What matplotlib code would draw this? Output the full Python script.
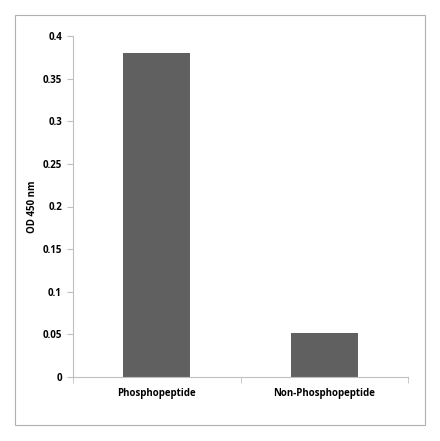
import matplotlib
matplotlib.use("Agg")
import matplotlib.pyplot as plt
from matplotlib.patches import Rectangle

categories = ["Phosphopeptide", "Non-Phosphopeptide"]
values = [0.38, 0.052]
yticks = [0, 0.05, 0.1, 0.15, 0.2, 0.25, 0.3, 0.35, 0.4]
ytick_labels = ["0", "0.05", "0.1", "0.15", "0.2", "0.25", "0.3", "0.35", "0.4"]

plt.rcParams['font.family'] = ['Open Sans', 'DejaVu Sans']

fig = plt.figure(figsize=(4.40, 4.41), dpi=100)
fig.patch.set_facecolor('white')
# outer frame
fig.add_artist(Rectangle((15/440, 1-425/441), 410/440, 410/441, transform=fig.transFigure,
                         fill=False, edgecolor='#b0b0b0', linewidth=0.8))

ax = fig.add_axes([73/440, 1-377/441, (408-73)/440, (377-36)/441])
x = list(range(len(categories)))
ax.bar(x, values, width=0.4, color='#606060')
ax.set_xlim(-0.5, 1.5)
ax.set_ylim(0, 0.4)
ax.set_yticks(yticks)
ax.set_yticklabels(ytick_labels, fontsize=7, fontweight='bold')
ax.set_xticks(x)
ax.set_xticklabels(categories, fontsize=7, fontweight='bold')
ax.set_xticks([-0.5, 0.5, 1.5], minor=True)
ax.tick_params(axis='x', which='major', length=0, pad=8)
ax.tick_params(axis='x', which='minor', length=4, color='#bfbfbf', direction='out')
ax.tick_params(axis='y', length=4, color='#bfbfbf', direction='out', pad=4)
for s in ['top', 'right']:
    ax.spines[s].set_visible(False)
for s in ['left', 'bottom']:
    ax.spines[s].set_color('#bfbfbf')
    ax.spines[s].set_linewidth(0.8)
ax.set_ylabel("OD 450 nm", fontsize=7, fontweight='bold', labelpad=3)
fig.savefig("out.png", dpi=100, facecolor='white')
